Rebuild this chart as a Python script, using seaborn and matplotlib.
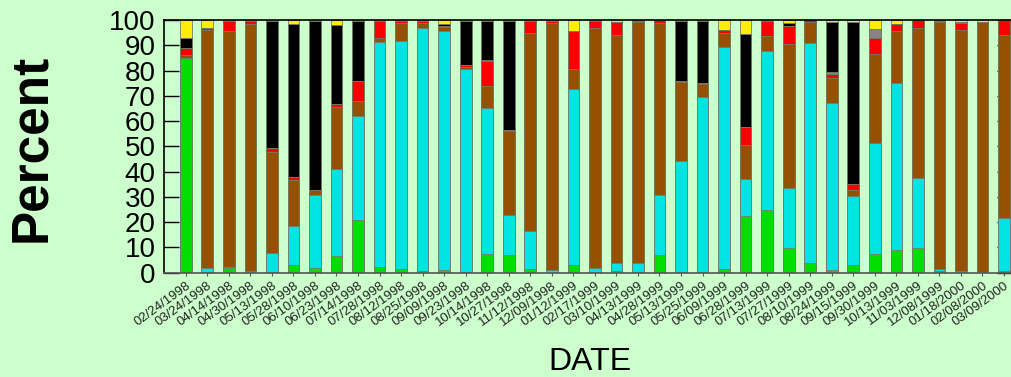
import numpy as np
import pandas as pd
import matplotlib
matplotlib.use("Agg")
import matplotlib.pyplot as plt
import seaborn as sns

# Sampling dates
dates = [
    "02/24/1998", "03/24/1998", "04/14/1998", "04/30/1998", "05/13/1998",
    "05/28/1998", "06/10/1998", "06/23/1998", "07/14/1998", "07/28/1998",
    "08/12/1998", "08/25/1998", "09/09/1998", "09/23/1998", "10/14/1998",
    "10/27/1998", "11/12/1998", "12/09/1998", "01/12/1999", "02/17/1999",
    "03/10/1999", "04/13/1999", "04/28/1999", "05/13/1999", "05/25/1999",
    "06/09/1999", "06/28/1999", "07/13/1999", "07/27/1999", "08/10/1999",
    "08/24/1999", "09/15/1999", "09/30/1999", "10/13/1999", "11/03/1999",
    "12/08/1999", "01/18/2000", "02/08/2000", "03/09/2000",
]

# Percent composition per date, bottom to top of each stack
green = [85.1, 0.3, 1.7, 0.0, 0.4, 3.2, 1.8, 6.5, 20.8, 2.2,
         1.5, 0.7, 1.2, 0.4, 7.5, 7.0, 1.3, 0.0, 3.0, 0.3,
         0.8, 0.2, 7.0, 0.4, 0.3, 1.5, 22.6, 24.8, 9.9, 3.8,
         1.1, 3.2, 7.4, 9.1, 9.9, 0.5, 0.0, 0.0, 0.7]
cyan = [0.0, 1.7, 0.4, 0.8, 7.5, 15.3, 28.9, 34.7, 41.3, 89.1,
        90.3, 96.1, 94.6, 80.3, 57.7, 15.8, 15.1, 1.0, 69.7, 1.7,
        3.2, 3.5, 23.6, 43.8, 69.4, 87.9, 14.5, 62.9, 23.5, 87.2,
        66.1, 27.1, 44.1, 65.8, 27.4, 1.0, 0.7, 0.4, 21.1]
brown = [1.0, 94.0, 93.5, 97.5, 39.9, 18.2, 2.1, 24.5, 5.8, 1.4,
         7.1, 2.1, 1.3, 0.6, 8.7, 33.4, 78.5, 97.9, 7.9, 94.8,
         90.1, 95.6, 68.1, 31.1, 4.8, 5.6, 13.6, 6.0, 57.2, 8.1,
         9.7, 2.5, 34.9, 20.9, 59.7, 97.6, 95.3, 98.7, 72.3]
red = [2.9, 1.0, 4.0, 1.3, 1.7, 1.0, 0.0, 1.1, 8.1, 7.0,
       0.8, 0.8, 0.5, 0.9, 10.0, 0.3, 4.8, 0.9, 15.2, 2.9,
       5.2, 0.4, 1.3, 0.7, 0.7, 1.2, 7.1, 5.9, 6.9, 0.9,
       1.7, 2.3, 6.5, 2.7, 3.0, 0.6, 2.9, 0.2, 5.9]
gray = [0.0, 0.0, 0.0, 0.0, 0.0, 0.0, 0.0, 0.0, 0.0, 0.0,
        0.0, 0.0, 0.0, 0.0, 0.3, 0.0, 0.0, 0.0, 0.0, 0.0,
        0.0, 0.0, 0.0, 0.0, 0.0, 0.0, 0.0, 0.0, 0.0, 0.0,
        0.7, 0.0, 3.5, 0.0, 0.0, 0.0, 0.4, 0.0, 0.0]
black = [3.7, 0.0, 0.0, 0.0, 50.1, 60.6, 66.9, 31.2, 23.7, 0.0,
         0.0, 0.0, 0.7, 17.5, 15.4, 43.2, 0.0, 0.0, 0.0, 0.0,
         0.0, 0.0, 0.0, 23.7, 24.5, 0.0, 36.5, 0.0, 1.3, 0.0,
         19.8, 64.2, 0.0, 0.0, 0.0, 0.0, 0.0, 0.0, 0.0]
yellow = [7.3, 3.0, 0.4, 0.4, 0.4, 1.7, 0.3, 2.0, 0.3, 0.3,
          0.3, 0.3, 1.7, 0.3, 0.4, 0.3, 0.3, 0.2, 4.2, 0.3,
          0.7, 0.3, 0.0, 0.3, 0.3, 3.8, 5.7, 0.4, 1.2, 0.0,
          0.9, 0.7, 3.6, 1.5, 0.0, 0.3, 0.7, 0.7, 0.0]

layers = [
    ("green", green, "#00DD00"),
    ("cyan", cyan, "#00E3E3"),
    ("brown", brown, "#955000"),
    ("red", red, "#FA0000"),
    ("gray", gray, "#858585"),
    ("black", black, "#000000"),
    ("yellow", yellow, "#FFEE00"),
]

bg = "#CCFFCC"

df = pd.DataFrame({"date": dates})
running = np.zeros(len(dates))
for name, vals, _ in layers:
    running = running + np.asarray(vals, dtype=float)
    df["top_" + name] = running

sns.set_theme(style="white")
plt.rcParams["font.family"] = ["Liberation Sans", "DejaVu Sans"]

fig = plt.figure(figsize=(10.12, 3.77), dpi=100, facecolor=bg)
ax = fig.add_axes([164 / 1012, 1 - 272.7 / 377, 848 / 1012, (272.7 - 20) / 377])
ax.set_facecolor(bg)

# Stack by overdrawing cumulative tops, highest layer first
for name, _, color in reversed(layers):
    sns.barplot(data=df, x="date", y="top_" + name, order=dates, color=color,
                saturation=1, width=0.54, errorbar=None,
                edgecolor="#6f7f68", linewidth=0.6, ax=ax)

ax.set_xlim(-1.01, 38.37)
ax.set_ylim(0, 100)
ax.set_yticks(range(0, 101, 10))
ax.tick_params(axis="y", direction="in", length=11, width=1.0, labelsize=20,
               pad=6, right=True, left=True, colors="black")
ax.set_xticks(range(len(dates)))
ax.set_xticklabels(dates, rotation=36, ha="right", rotation_mode="anchor",
                   fontsize=9.5, color="#222222")
ax.tick_params(axis="x", direction="out", length=2, width=0.8, pad=3,
               color="#555555", bottom=True)
ax.set_xlabel("")
ax.set_ylabel("")

for side in ["left", "top", "right"]:
    ax.spines[side].set_color("black")
    ax.spines[side].set_linewidth(1.2)
ax.spines["bottom"].set_color("#555555")
ax.spines["bottom"].set_linewidth(1.2)

fig.text(32 / 1012, 1 - 148 / 377, "Percent", rotation=90, fontsize=37,
         fontweight="bold", ha="center", va="center", color="black")
fig.text(590 / 1012, 1 - 362 / 377, "DATE", fontsize=23,
         ha="center", va="center", color="black")

fig.savefig("out.png", dpi=100, facecolor=bg)
